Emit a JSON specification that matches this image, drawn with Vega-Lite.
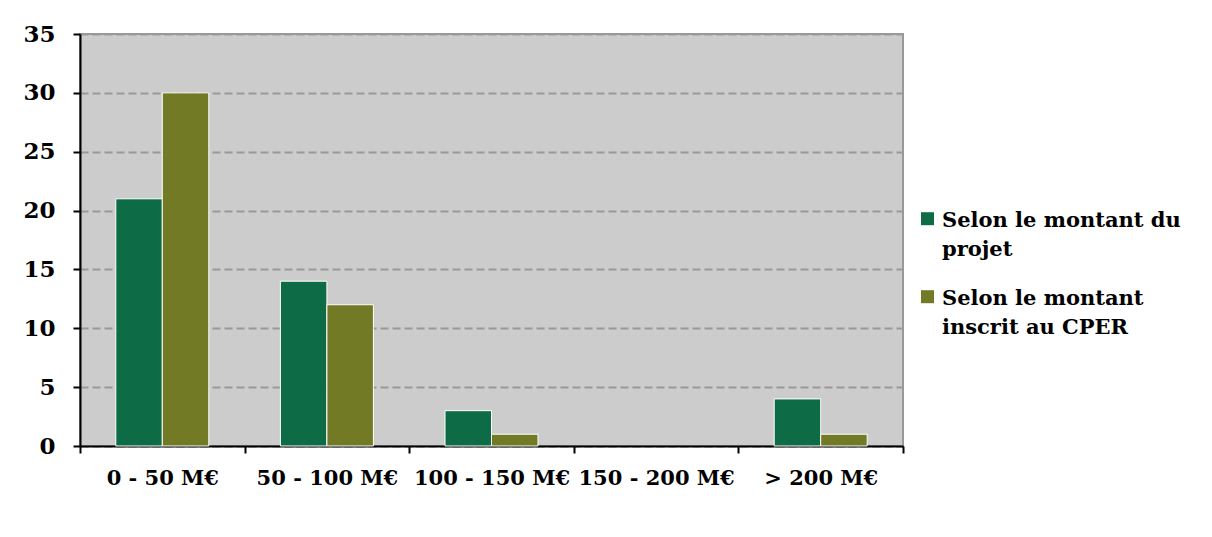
{
  "$schema": "https://vega.github.io/schema/vega-lite/v6.json",
  "width": 823,
  "height": 412,
  "autosize": {"type": "none"},
  "padding": {"left": 80, "top": 34, "right": 309, "bottom": 91},
  "background": "white",
  "data": {"values": [
    {"cat": "0 - 50 M€", "serie": "Selon le montant du projet", "v": 21},
    {"cat": "0 - 50 M€", "serie": "Selon le montant inscrit au CPER", "v": 30},
    {"cat": "50 - 100 M€", "serie": "Selon le montant du projet", "v": 14},
    {"cat": "50 - 100 M€", "serie": "Selon le montant inscrit au CPER", "v": 12},
    {"cat": "100 - 150 M€", "serie": "Selon le montant du projet", "v": 3},
    {"cat": "100 - 150 M€", "serie": "Selon le montant inscrit au CPER", "v": 1},
    {"cat": "150 - 200 M€", "serie": "Selon le montant du projet", "v": 0},
    {"cat": "150 - 200 M€", "serie": "Selon le montant inscrit au CPER", "v": 0},
    {"cat": "> 200 M€", "serie": "Selon le montant du projet", "v": 4},
    {"cat": "> 200 M€", "serie": "Selon le montant inscrit au CPER", "v": 1}
  ]},
  "mark": {"type": "bar", "stroke": "white", "strokeWidth": 1},
  "encoding": {
    "x": {
      "field": "cat", "type": "nominal", "sort": null,
      "scale": {"paddingInner": 0, "paddingOuter": 0},
      "axis": {"title": null, "labelAngle": 0, "tickBand": "extent", "domainColor": "black", "domainWidth": 2, "tickColor": "black", "tickWidth": 2, "tickSize": 7, "labelPadding": 14, "labelFontSize": 21, "grid": false}
    },
    "xOffset": {"field": "serie", "type": "nominal", "scale": {"paddingInner": 0, "paddingOuter": 0.77}},
    "y": {
      "field": "v", "type": "quantitative",
      "scale": {"domain": [0, 35]},
      "axis": {"title": null, "values": [0, 5, 10, 15, 20, 25, 30, 35], "domainColor": "black", "domainWidth": 2, "tickColor": "black", "tickWidth": 2, "tickSize": 7, "labelPadding": 18, "labelFontSize": 23, "grid": true, "gridColor": "#999999", "gridWidth": 2, "gridDash": [8, 4]}
    },
    "strokeOpacity": {"condition": {"test": "datum.v == 0", "value": 0}, "value": 1},
    "color": {
      "field": "serie", "type": "nominal",
      "scale": {"range": ["#0D6B45", "#727A26"]},
      "legend": {
        "title": null, "orient": "none", "legendX": 837, "legendY": 182,
        "symbolType": "M-1,-2.2H1V-0.2H-1Z", "symbolSize": 169, "symbolStrokeWidth": 0,
        "labelFontSize": 21, "labelFont": "DejaVu Serif", "labelFontWeight": "bold", "labelColor": "black",
        "labelLimit": 330, "rowPadding": 27, "labelOffset": 4, "labelBaseline": "alphabetic",
        "labelExpr": "datum.label == 'Selon le montant du projet' ? ['Selon le montant du', 'projet'] : ['Selon le montant', 'inscrit au CPER']"
      }
    }
  },
  "config": {
    "view": {"fill": "#CCCCCC", "stroke": "#999999", "strokeWidth": 2},
    "axis": {"labelFont": "DejaVu Serif", "labelFontWeight": "bold", "labelColor": "black"},
    "style": {"guide-label": {"lineHeight": 29}}
  }
}
